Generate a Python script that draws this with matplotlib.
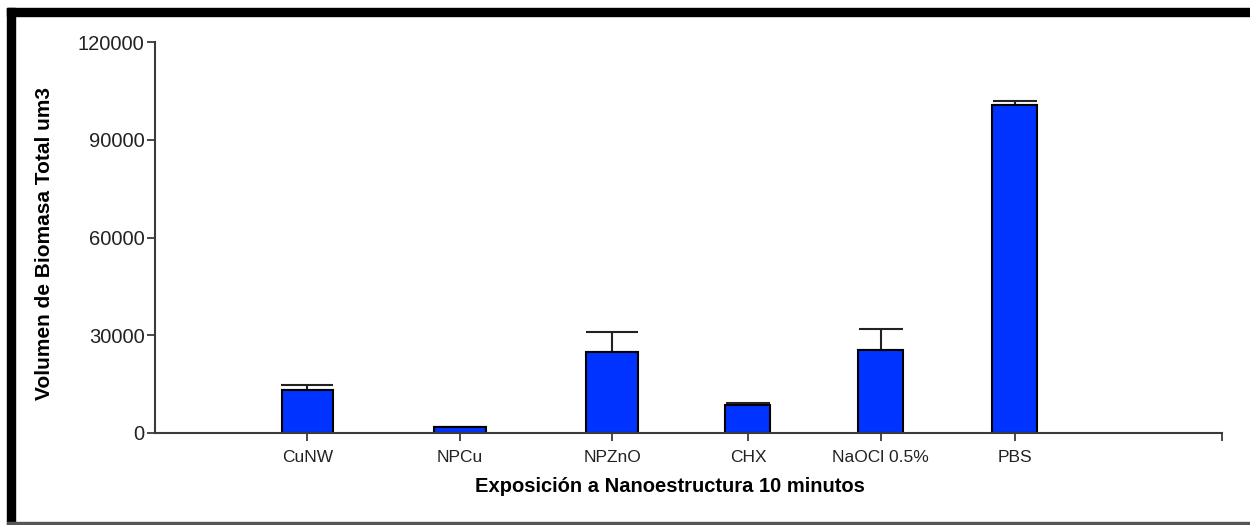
import matplotlib
matplotlib.use("Agg")
import matplotlib.pyplot as plt
from matplotlib.patches import Rectangle

categories = ["CuNW", "NPCu", "NPZnO", "CHX", "NaOCl 0.5%", "PBS"]
means = [13200, 1750, 24900, 8500, 25400, 100700]
errors_up = [1600, 200, 6100, 700, 6600, 1100]
y_ticks = [0, 30000, 60000, 90000, 120000]

# layout (category positions in axis units, bar widths)
positions = [1.0, 2.0, 3.0, 3.89, 4.76, 5.64]
widths = [0.34, 0.34, 0.34, 0.295, 0.295, 0.295]

W, H, DPI = 1250, 525, 100
fig = plt.figure(figsize=(W / DPI, H / DPI), dpi=DPI)
plt.rcParams['font.family'] = ['Liberation Sans', 'DejaVu Sans']

ax = fig.add_axes([155 / W, 1 - 433 / H, (1222 - 155) / W, (433 - 42) / H])
ax.set_xlim(0, 7)
ax.set_ylim(0, 120000)

bar_color = "#0033FF"
axis_color = "#3a3a3a"
ax.bar(positions, means, width=widths, color=bar_color, edgecolor="black",
       linewidth=1.5, zorder=2)

px_per_unit = (1222 - 155) / 7
for x, m, e, w in zip(positions, means, errors_up, widths):
    cap_pts = (w * px_per_unit / 2) * 72 / DPI
    ax.errorbar([x], [m], yerr=[[0], [e]], fmt="none", ecolor="#222222",
                elinewidth=1.5, capsize=cap_pts, capthick=1.5, zorder=1)

for s in ["top", "right"]:
    ax.spines[s].set_visible(False)
for s in ["left", "bottom"]:
    ax.spines[s].set_color(axis_color)
    ax.spines[s].set_linewidth(1.5)

ax.set_yticks(y_ticks)
ax.set_yticklabels([str(v) for v in y_ticks], fontsize=14.5, color="#222222")
ax.set_xticks(positions + [7])
ax.set_xticklabels(categories + [""], fontsize=12.5, color="#222222")
ax.tick_params(axis="both", direction="out", length=6, width=1.3,
               color=axis_color)
ax.tick_params(axis="x", pad=6)
ax.tick_params(axis="y", pad=1.5)

fig.text(670 / W, 1 - 487 / H, "Exposición a Nanoestructura 10 minutos",
         ha="center", va="center", fontsize=14.5, fontweight="bold")
fig.text(45 / W, 1 - 243 / H, "Volumen de Biomasa Total um3",
         ha="center", va="center", rotation=90, fontsize=15,
         fontweight="bold")

# frame
fig.patches.append(Rectangle((7 / W, 1 - 16 / H), 1 - 7 / W, 8 / H,
                             transform=fig.transFigure, color="black",
                             zorder=5))
fig.patches.append(Rectangle((7 / W, 1 - 524 / H), 8 / W, (524 - 8) / H,
                             transform=fig.transFigure, color="black",
                             zorder=5))
fig.patches.append(Rectangle((7 / W, 1 - 524 / H), 1 - 7 / W, 2 / H,
                             transform=fig.transFigure, color="#555555",
                             zorder=5))

fig.savefig("out.png", dpi=DPI)
